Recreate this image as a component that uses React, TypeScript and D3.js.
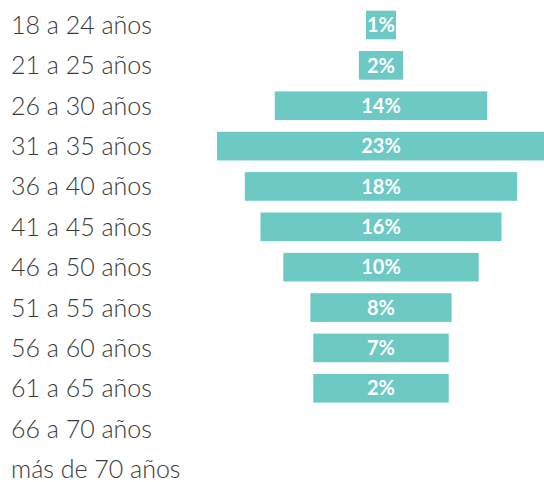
import React from "react";
import * as d3 from "d3";

// age groups, top to bottom
const ageGroups = [
  "18 a 24 años",
  "21 a 25 años",
  "26 a 30 años",
  "31 a 35 años",
  "36 a 40 años",
  "41 a 45 años",
  "46 a 50 años",
  "51 a 55 años",
  "56 a 60 años",
  "61 a 65 años",
  "66 a 70 años",
  "más de 70 años",
];

// percentage printed on each bar (null = no bar)
const shareLabels = [1, 2, 14, 23, 18, 16, 10, 8, 7, 2, null, null];

// bar lengths as drawn in the source (they do not follow the labels exactly)
const barLengths = [2.1, 3.1, 14.9, 23, 19.1, 16.9, 13.7, 9.9, 9.5, 9.5, null, null];

const WIDTH = 544;
const HEIGHT = 482;
const CENTER_X = 381;
const BAR_COLOR = "#6dc9c4";

const App = () => {
  const y = d3.scalePoint<string>().domain(ageGroups).range([25, 469]);
  const barH = y.step() * 0.71;

  const w = d3.scaleLinear().domain([0, 23]).range([0, 328]);

  return (
    <svg width={WIDTH} height={HEIGHT}
      style={{ position: "absolute", left: 0, top: 0, display: "block" }}
      fontFamily="Lato, 'Open Sans', sans-serif">
      <g className="labels">
        {ageGroups.map((g) => (
          <text key={g} x={11} y={y(g)} dy="0.36em"
            fontSize={25} fontWeight={300} fill="#3a3a3a">
            {g}
          </text>
        ))}
      </g>
      <g className="bars">
        {ageGroups.map((g, i) => {
          const len = barLengths[i];
          if (len == null) return null;
          const bw = w(len);
          const cy = y(g) as number;
          return (
            <g key={g}>
              <rect x={CENTER_X - bw / 2} y={cy - barH / 2} width={bw} height={barH} fill={BAR_COLOR} />
              <text x={CENTER_X} y={cy} dy="0.36em" textAnchor="middle"
                fontSize={20} fontWeight={700} fill="#fff">
                {`${shareLabels[i]}%`}
              </text>
            </g>
          );
        })}
      </g>
    </svg>
  );
};

export default App;
